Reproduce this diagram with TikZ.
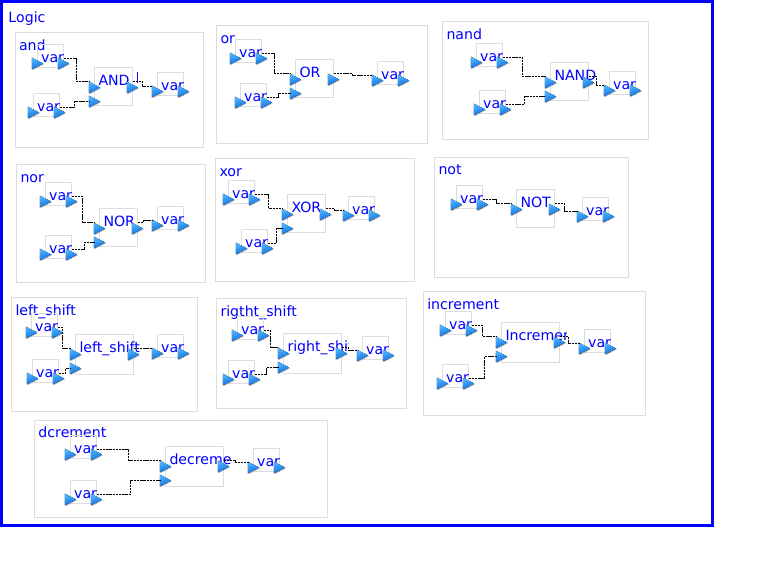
\documentclass[tikz,border=0pt]{standalone}
\usepackage{fontspec}
\setmainfont{DejaVu Sans}
\definecolor{framegray}{HTML}{DDDDDD}
\definecolor{portlight}{HTML}{4DB4FF}
\definecolor{portdark}{HTML}{0C6CE0}
\tikzset{
  framebox/.style={draw=framegray,line width=0.75pt,inner sep=0pt,outer sep=0pt,anchor=north west},
  labeltext/.style={text=blue,inner sep=0pt,outer sep=0pt,anchor=base west,yshift=-0.5pt,font=\fontsize{10.6pt}{12pt}\selectfont},
  wire/.style={draw=black,line width=0.8pt,dash pattern=on 1.8pt off 0.6pt},
  portshade/.style={top color=portlight,bottom color=portdark,shading angle=20},
  portshadow/.style={fill=black!60,opacity=0.45}
}
\newcommand{\panelbox}[7]{% name x y w h labelx,baseline label
  \node[framebox,minimum width=#4*0.75pt,minimum height=#5*0.75pt] (#1) at (#2,#3) {};
  \node[labeltext] (#1-label) at (#6) {#7};
}
\newcommand{\portmark}[3]{% name cx cy
  \coordinate (#1) at (#2,#3);
  \fill[portshadow] ({#2-5.7+0.8},{#3-5.9+0.8}) -- ({#2-5.7+0.8},{#3+5.9+0.8}) -- ({#2+5.7+0.8},{#3+0.8}) -- cycle;
  \fill[portshade] ({#2-5.7},{#3-5.9}) -- ({#2-5.7},{#3+5.9}) -- ({#2+5.7},{#3}) -- cycle;
}
\newcommand{\varblock}[3]{% name x y
  \node[framebox,minimum width=26*0.75pt,minimum height=23*0.75pt] (#1) at (#2,#3) {};
  \node[labeltext] (#1-text) at ({#2+3.7},{#3+17}) {var};
  \portmark{#1-l}{#2}{#3+19}
  \portmark{#1-r}{#2+26}{#3+19}
  \coordinate (#1-in) at ({#2-5},{#3+14});
  \coordinate (#1-out) at ({#2+26},{#3+14});
}
\newcommand{\fnblock}[6]{% name x y w h text
  \node[framebox,minimum width=#4*0.75pt,minimum height=#5*0.75pt] (#1) at (#2,#3) {};
  \begin{scope}
    \clip ({#2},{#3}) rectangle ({#2+#4+6.5},{#3+#5});
    \node[labeltext] (#1-text) at ({#2+4},{#3+17.5}) {#6};
  \end{scope}
  \portmark{#1-l}{#2}{#3+20}
  \portmark{#1-r}{#2+#4}{#3+20}
  \coordinate (#1-a) at ({#2-5},{#3+14});
  \coordinate (#1-o) at ({#2+#4},{#3+14});
}
\newcommand{\secondport}[3]{% name x y
  \portmark{#1-m}{#2}{#3+34}
  \coordinate (#1-b) at ({#2-5},{#3+34});
}
\newcommand{\wirelink}[3]{% from midx to
  \draw[wire] (#1) -- (#2,0 |- #1) -- (#2,0 |- #3) -- (#3);
}
\begin{document}
\begin{tikzpicture}[x=0.75pt,y=-0.75pt]
\useasboundingbox (0,0) rectangle (764,577);
\fill[white] (0,0) rectangle (764,577);
\draw[blue,line width=2.25pt,fill=white] (1.4,1.4) rectangle (712.5,525.3);
\node[labeltext] (logic) at (8.5,21.7) {Logic};

% and
\panelbox{pand}{15.5}{32.5}{188}{115}{19.0,50}{and}
\varblock{a1}{37.5}{44.5}
\varblock{a2}{33.5}{93.5}
\fnblock{af}{94.5}{67.5}{38}{38}{AND}
\secondport{af}{94.5}{67.5}
\varblock{a3}{157.5}{72.5}
\wirelink{a1-out}{76.5}{af-a}
\wirelink{a2-out}{74.5}{af-b}
\wirelink{af-o}{142.5}{a3-in}
\draw[blue!80!red,line width=0.6pt] (137.6,72) -- (137.6,83);

% or
\panelbox{por}{216.5}{25.5}{211}{118}{220.5,42.7}{or}
\varblock{o1}{235.5}{39.5}
\varblock{o2}{240.5}{83.5}
\fnblock{of}{295.5}{59.5}{38}{38}{OR}
\secondport{of}{295.5}{59.5}
\varblock{o3}{377.5}{61.5}
\wirelink{o1-out}{274.5}{of-a}
\wirelink{o2-out}{278.5}{of-b}
\wirelink{of-o}{352.5}{o3-in}

% nand
\panelbox{pnand}{442.5}{21.5}{206}{118}{446.5,39.3}{nand}
\varblock{n1}{476.5}{43.5}
\varblock{n2}{479.5}{90.5}
\fnblock{nf}{550.5}{62.5}{38}{38}{NAND}
\secondport{nf}{550.5}{62.5}
\varblock{n3}{609.5}{71.5}
\wirelink{n1-out}{522.5}{nf-a}
\wirelink{n2-out}{524.5}{nf-b}
\wirelink{nf-o}{596.5}{n3-in}

% nor
\panelbox{pnor}{16.5}{164.5}{189}{118}{20.5,181.7}{nor}
\varblock{r1}{45.5}{182.5}
\varblock{r2}{45.5}{235.5}
\fnblock{rf}{99.5}{208.5}{38}{38}{NOR}
\secondport{rf}{99.5}{208.5}
\varblock{r3}{157.5}{206.5}
\wirelink{r1-out}{82.5}{rf-a}
\wirelink{r2-out}{84.5}{rf-b}
\wirelink{rf-o}{143.5}{r3-in}

% xor
\panelbox{pxor}{215.5}{158.5}{199}{123}{219.5,175.7}{xor}
\varblock{x1}{228.5}{180.5}
\varblock{x2}{241.5}{229.5}
\fnblock{xf}{287.5}{194.5}{38}{38}{XOR}
\secondport{xf}{287.5}{194.5}
\varblock{x3}{348.5}{196.5}
\wirelink{x1-out}{268.5}{xf-a}
\wirelink{x2-out}{276.5}{xf-b}
\wirelink{xf-o}{334.5}{x3-in}

% not
\panelbox{pnot}{434.5}{157.5}{194}{120}{438.5,174.3}{not}
\varblock{t1}{456.5}{185.5}
\fnblock{tf}{516.5}{189.5}{38}{38}{NOT}
\varblock{t3}{582.5}{197.5}
\wirelink{t1-out}{496.5}{tf-a}
\wirelink{tf-o}{564.5}{t3-in}

% left_shift
\panelbox{pls}{11.5}{297.5}{186}{114}{15.5,315}{left\_shift}
\varblock{l1}{31.5}{313.5}
\varblock{l2}{32.5}{359.5}
\fnblock{lf}{75.5}{334.5}{58}{40}{left\_shift}
\secondport{lf}{75.5}{334.5}
\varblock{l3}{157.5}{334.5}
\wirelink{l1-out}{62.5}{lf-a}
\wirelink{l2-out}{65.5}{lf-b}
\wirelink{lf-o}{145.5}{l3-in}

% rigtht_shift
\panelbox{prs}{216.5}{298.5}{190}{110}{220.5,315.7}{rigtht\_shift}
\varblock{s1}{237.5}{316.5}
\varblock{s2}{228.5}{360.5}
\fnblock{sf}{283.5}{333.5}{58}{40}{right\_shift}
\secondport{sf}{283.5}{333.5}
\varblock{s3}{362.5}{336.5}
\wirelink{s1-out}{270.5}{sf-a}
\wirelink{s2-out}{266.5}{sf-b}
\wirelink{sf-o}{348.5}{s3-in}

% increment
\panelbox{pinc}{423.5}{291.5}{222}{124}{427.3,309}{increment}
\varblock{i1}{445.5}{311.5}
\varblock{i2}{442.5}{364.5}
\fnblock{if}{501.5}{322.5}{58}{40}{Increment}
\secondport{if}{501.5}{322.5}
\varblock{i3}{584.5}{329.5}
\wirelink{i1-out}{482.5}{if-a}
\wirelink{i2-out}{484.5}{if-b}
\wirelink{if-o}{568.5}{i3-in}

% dcrement
\panelbox{pdec}{34.5}{420.5}{293}{97}{38.5,437.3}{dcrement}
\varblock{d1}{70.5}{435.5}
\varblock{d2}{70.5}{480.5}
\fnblock{df}{165.5}{446.5}{58}{40}{decrement}
\secondport{df}{165.5}{446.5}
\varblock{d3}{253.5}{448.5}
\wirelink{d1-out}{128.5}{df-a}
\wirelink{d2-out}{130.5}{df-b}
\wirelink{df-o}{235.5}{d3-in}
\end{tikzpicture}
\end{document}
